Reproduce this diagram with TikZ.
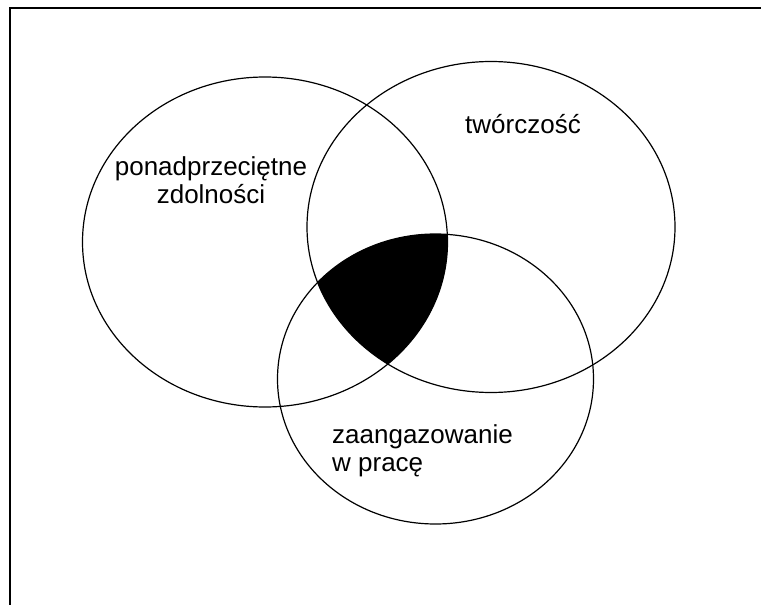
\documentclass[tikz,border=0pt]{standalone}
\usepackage{fontspec}
\setmainfont{Liberation Sans}
\usetikzlibrary{positioning}

\tikzset{
  ring/.style={draw=black, line width=1.2pt},
  setlabel/.style={font=\fontsize{26}{28}\selectfont, inner sep=0pt},
  frameline/.style={line width=2pt}
}

\begin{document}
\begin{tikzpicture}[x=1pt,y=-1pt]
\useasboundingbox (0,0) rectangle (761,605);
% frame
\draw[frameline] (761,8) -- (10,8) -- (10,605);

% common part of the three sets
\begin{scope}
  \clip (265,242) ellipse [x radius=182.5, y radius=165];
  \clip (491,227) ellipse [x radius=184, y radius=165.5];
  \fill (435.5,379) ellipse [x radius=158, y radius=145];
\end{scope}

% the three sets
\draw[ring] (265,242) ellipse [x radius=182.5, y radius=165];
\draw[ring] (491,227) ellipse [x radius=184, y radius=165.5];
\draw[ring] (435.5,379) ellipse [x radius=158, y radius=145];

% labels
\node[setlabel, align=center, anchor=north] (zdolnosci) at (211,156.5) {ponadprzeciętne\\zdolności};
\node[setlabel, anchor=base] (tworczosc) at (523,133) {twórczość};
\node[setlabel, align=left, anchor=north west] (praca) at (332,424.5) {zaangazowanie\\w pracę};
\end{tikzpicture}
\end{document}
